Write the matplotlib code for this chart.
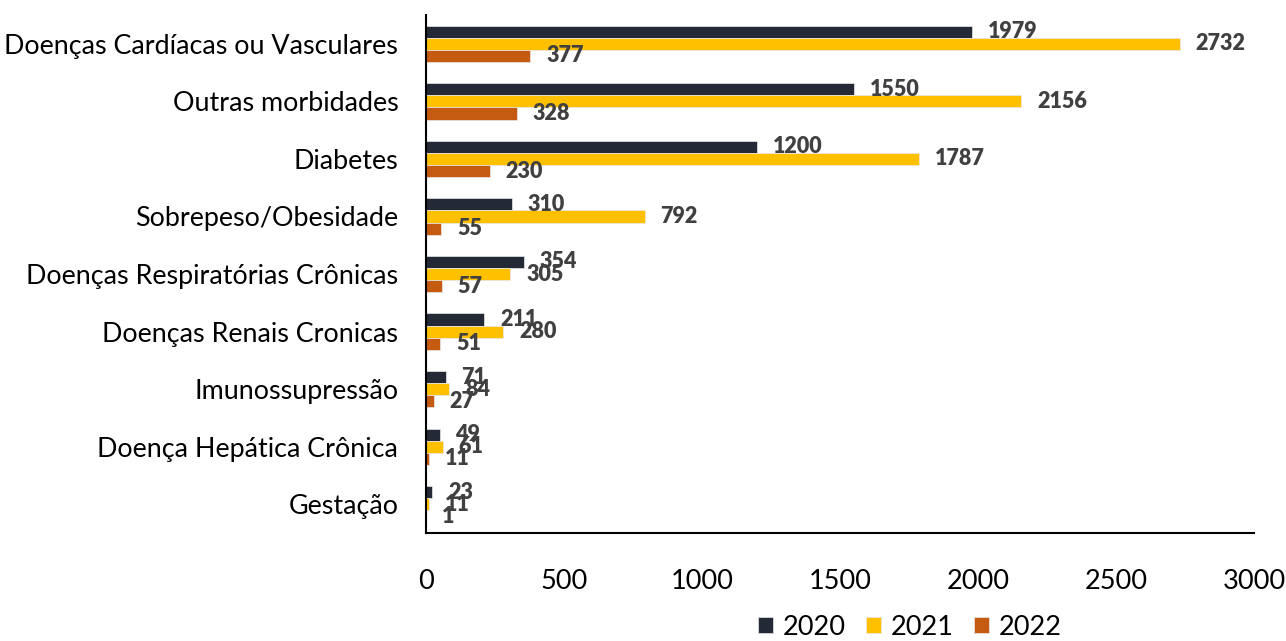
import matplotlib
matplotlib.use("Agg")
import matplotlib.pyplot as plt
import numpy as np

plt.rcParams['font.family'] = ['Lato', 'DejaVu Sans']

categories = [
    "Doenças Cardíacas ou Vasculares",
    "Outras morbidades",
    "Diabetes",
    "Sobrepeso/Obesidade",
    "Doenças Respiratórias Crônicas",
    "Doenças Renais Cronicas",
    "Imunossupressão",
    "Doença Hepática Crônica",
    "Gestação",
]
series_names = ["2020", "2021", "2022"]
values_2020 = [1979, 1550, 1200, 310, 354, 211, 71, 49, 23]
values_2021 = [2732, 2156, 1787, 792, 305, 280, 84, 61, 11]
values_2022 = [377, 328, 230, 55, 57, 51, 27, 11, 1]
x_ticks = [0, 500, 1000, 1500, 2000, 2500, 3000]

colors = ["#232a35", "#ffc000", "#c55a11"]
label_color = "#404040"

fig = plt.figure(figsize=(12.86, 6.41), dpi=100)
ax = fig.add_axes([0.3313, 0.1685, 0.6437, 0.808])

y = np.arange(len(categories))
bar_h = 0.21
all_series = [values_2020, values_2021, values_2022]
for i, (vals, name, col) in enumerate(zip(all_series, series_names, colors)):
    pos = y + (i - 1) * bar_h
    bars = ax.barh(pos, vals, height=bar_h, color=col, label=name,
                   edgecolor="#e8e8e8", linewidth=0.5)
    # value labels sit a bit to the right of each bar end
    ax.bar_label(bars, labels=[str(v) for v in vals], padding=11.5,
                 fontsize=15.5, fontweight='heavy', color=label_color)

ax.set_ylim(len(categories) - 0.5, -0.5)
ax.set_xlim(0, 3000)
ax.set_yticks(y)
ax.set_yticklabels(categories, fontsize=19.4)
ax.set_xticks(x_ticks)
ax.set_xticklabels([str(t) for t in x_ticks], fontsize=19.5)
ax.tick_params(axis='both', length=0)
ax.tick_params(axis='x', pad=26)
ax.tick_params(axis='y', pad=20)

for side in ['top', 'right']:
    ax.spines[side].set_visible(False)
for side in ['left', 'bottom']:
    ax.spines[side].set_color('black')
    ax.spines[side].set_linewidth(1.5)

fig.legend(loc='center', bbox_to_anchor=(0.7076, 0.0218), ncol=3,
           frameon=False, fontsize=19.5, handlelength=0.55, handleheight=0.55,
           handletextpad=0.37, columnspacing=0.74)

fig.savefig("out.png", dpi=100)
